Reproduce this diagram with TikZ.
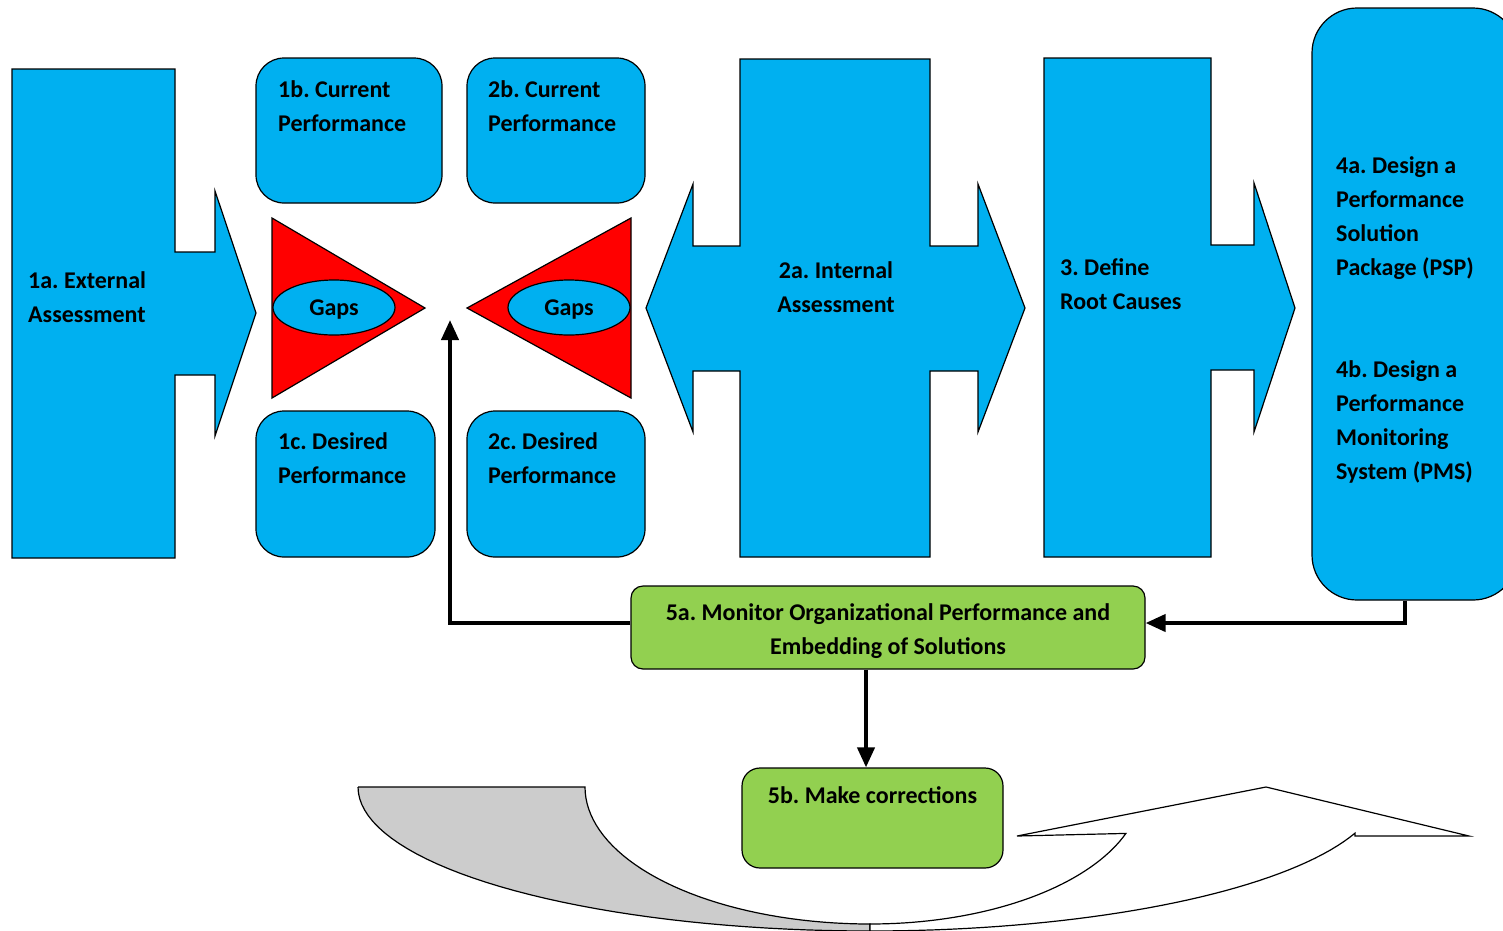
\documentclass[tikz,border=0pt]{standalone}
\usepackage{fontspec}
\setmainfont{Carlito}
\usetikzlibrary{arrows.meta,positioning,calc,shapes.geometric}
\definecolor{calloutblue}{HTML}{00B0F0}
\definecolor{gapred}{HTML}{FF0000}
\definecolor{stepgreen}{HTML}{92D050}
\definecolor{ribbongray}{HTML}{CCCCCC}
\newcommand\lblfont{\fontsize{24}{34}\selectfont\bfseries}
\frenchspacing
\begin{document}
\begin{tikzpicture}[x=1pt, y=-1pt,
  outline/.style={draw=black, line width=1.2pt},
  bluefill/.style={outline, fill=calloutblue},
  bluebox/.style={bluefill, rounded corners=28pt, inner sep=0pt},
  greenbox/.style={outline, fill=stepgreen, inner sep=0pt},
  gapoval/.style={outline, fill=calloutblue, ellipse, minimum width=122pt, minimum height=55pt, inner sep=0pt, text depth=0pt, font=\lblfont},
  lbl/.style={inner sep=0pt, align=left, font=\lblfont},
  flowline/.style={line width=4pt, -{Triangle[length=20pt,width=17pt]}},
]
\useasboundingbox (0,0) rectangle (1503,930);
\clip (0,0) rectangle (1503,930);

% corrections ribbon at the bottom
\filldraw[outline, fill=ribbongray] (358,787) -- (585,787)
  -- plot[domain=180:270, samples=40, variable=\t] ({870+285*cos(\t)}, {787-137*sin(\t)})
  -- (870,931)
  -- plot[domain=270:180, samples=40, variable=\t] ({870+512*cos(\t)}, {787-144*sin(\t)}) -- cycle;
\filldraw[outline, fill=white] (870,924)
  -- plot[domain=270:340.2, samples=40, variable=\t] ({870+272*cos(\t)}, {787-137*sin(\t)})
  -- (1017,836) -- (1266,787) -- (1469,836) -- (1355,836)
  -- plot[domain=341.3:270, samples=40, variable=\t] ({870+512*cos(\t)}, {787-144*sin(\t)}) -- cycle;

% assessment callouts
\filldraw[bluefill] (12,69) -- (175,69) -- (175,252) -- (215,252) -- (215,191) -- (256,313)
  -- (215,436) -- (215,375) -- (175,375) -- (175,558) -- (12,558) -- cycle;
\node[lbl, anchor=north west] (ext) at (28,271) {1a. External\\Assessment};

\filldraw[bluefill] (740,59) -- (930,59) -- (930,246) -- (978,246) -- (978,184) -- (1025,308)
  -- (978,432) -- (978,371) -- (930,371) -- (930,557) -- (740,557) -- (740,371) -- (693,371)
  -- (693,432) -- (646,308) -- (693,184) -- (693,246) -- (740,246) -- cycle;
\node[lbl, align=center, anchor=north] (int) at (836,261) {2a. Internal\\Assessment};

\filldraw[bluefill] (1044,58) -- (1211,58) -- (1211,245) -- (1254,245) -- (1254,183) -- (1295,308)
  -- (1254,432) -- (1254,370) -- (1211,370) -- (1211,557) -- (1044,557) -- cycle;
\node[lbl, anchor=north west] (root) at (1060,258) {3. Define\\Root Causes};

% performance boxes
\node[bluebox, minimum width=186pt, minimum height=145pt] (cur1) at (349,130.5) {};
\node[bluebox, minimum width=179pt, minimum height=146pt] (des1) at (345.5,484) {};
\node[bluebox, minimum width=178pt, minimum height=145pt] (cur2) at (556,130.5) {};
\node[bluebox, minimum width=178pt, minimum height=146pt] (des2) at (556,484) {};
\node[lbl, anchor=north west] (cur1txt) at (278,80) {1b. Current\\Performance};
\node[lbl, anchor=north west] (des1txt) at (278,432) {1c. Desired\\Performance};
\node[lbl, anchor=north west] (cur2txt) at (488,80) {2b. Current\\Performance};
\node[lbl, anchor=north west] (des2txt) at (488,432) {2c. Desired\\Performance};

% gaps
\filldraw[outline, fill=gapred] (272,218) -- (425,308) -- (272,398) -- cycle;
\filldraw[outline, fill=gapred] (631,218) -- (467,308) -- (631,398) -- cycle;
\node[gapoval] (gap1) at (334,307.5) {Gaps};
\node[gapoval] (gap2) at (569,307.5) {Gaps};

% solution design
\node[bluebox, rounded corners=45pt, minimum width=206pt, minimum height=592pt] (psp) at (1415,304) {};
\node[lbl, anchor=north west] (psptxt) at (1336,156) {4a. Design a\\Performance\\Solution\\Package (PSP)};
\node[lbl, anchor=north west] (pmstxt) at (1336,360) {4b. Design a\\Performance\\Monitoring\\System (PMS)};

% monitoring and corrections
\node[greenbox, rounded corners=12pt, minimum width=514pt, minimum height=83pt] (mon) at (888,627.5) {};
\node[lbl, align=center, anchor=north] (montxt) at (888,603) {5a. Monitor Organizational Performance and\\Embedding of Solutions};
\node[greenbox, rounded corners=18pt, minimum width=261pt, minimum height=100pt] (corr) at (872.5,818) {};
\node[lbl, anchor=north] (corrtxt) at (872.5,786) {5b. Make corrections};
\coordinate (gapin) at (450,320);

\draw[flowline] ([xshift=-10pt]psp.south) |- ([yshift=4.5pt]mon.east);
\draw[flowline] ([yshift=4.5pt]mon.west) -| (gapin);
\draw[flowline] ([xshift=-22pt]mon.south) -- ([xshift=-6.5pt]corr.north);
\end{tikzpicture}
\end{document}
